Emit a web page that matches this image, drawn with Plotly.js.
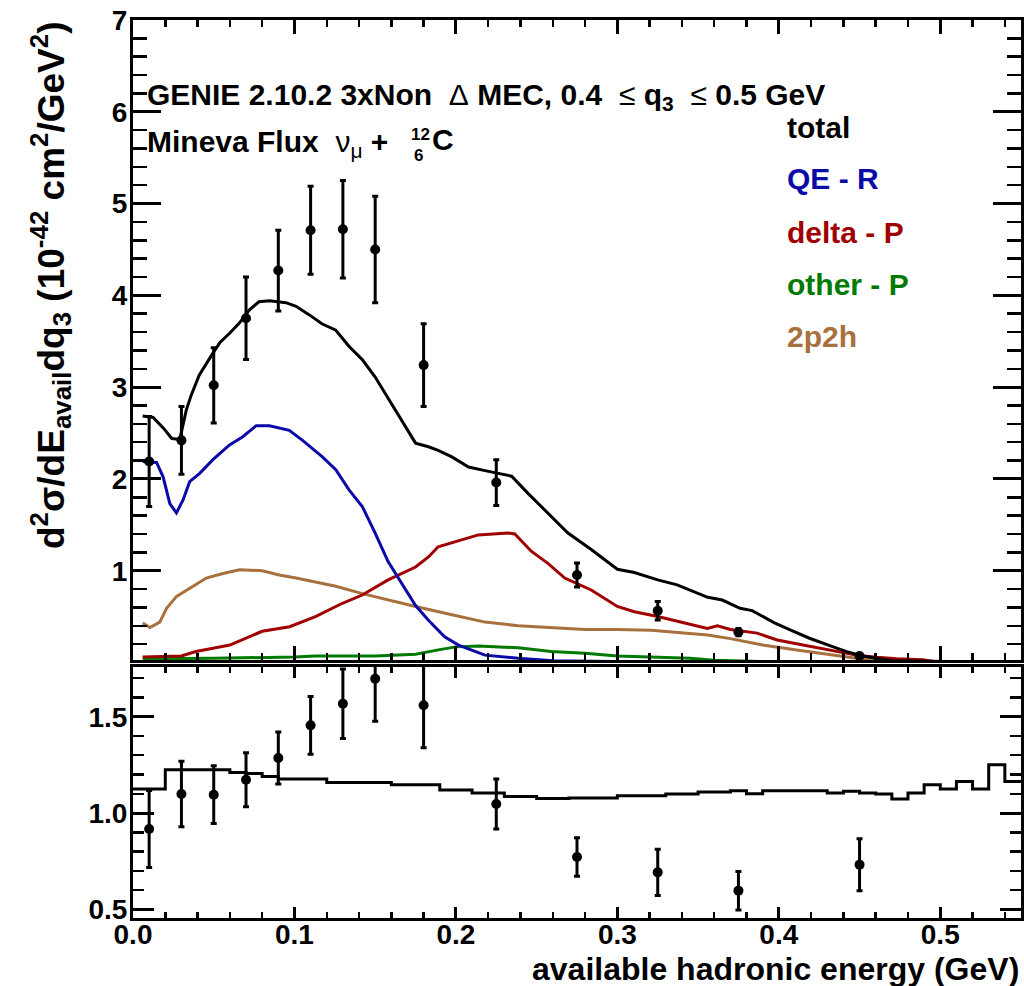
<!DOCTYPE html>
<html><head><meta charset="utf-8">
<script src="https://cdn.plot.ly/plotly-3.0.1.min.js"></script>
<style>html,body{margin:0;padding:0;background:#fff;}</style>
</head><body>
<div id="chart" style="width:1024px;height:986px;"></div>
<script>
// ---- data points (top panel) ----
const dataX   = [0.01, 0.03, 0.05, 0.07, 0.09, 0.11, 0.13, 0.15, 0.18, 0.225, 0.275, 0.325, 0.375, 0.45];
const dataY   = [2.19, 2.42, 3.02, 3.75, 4.27, 4.71, 4.72, 4.50, 3.24, 1.96, 0.953, 0.564, 0.33, 0.07];
const dataErr = [0.49, 0.37, 0.41, 0.45, 0.44, 0.48, 0.53, 0.58, 0.45, 0.25, 0.13, 0.10, 0.04, 0.02];

// ---- model curves (top panel) ----
const totalX = [0.006, 0.0125, 0.019, 0.024, 0.029, 0.033, 0.036, 0.041, 0.0495, 0.054, 0.060, 0.066, 0.072, 0.078, 0.0845, 0.0947, 0.101, 0.109, 0.117, 0.1256, 0.134, 0.142, 0.150, 0.158, 0.1667, 0.175, 0.183, 0.189, 0.1975, 0.2078, 0.218, 0.2345, 0.2448, 0.255, 0.2694, 0.2838, 0.300, 0.3105, 0.325, 0.337, 0.350, 0.356, 0.365, 0.376, 0.3835, 0.397, 0.407, 0.419, 0.432, 0.442, 0.452, 0.461, 0.470, 0.545];
const totalY = [2.685, 2.67, 2.55, 2.44, 2.43, 2.75, 2.91, 3.13, 3.37, 3.49, 3.59, 3.70, 3.84, 3.93, 3.94, 3.92, 3.88, 3.79, 3.69, 3.62, 3.44, 3.30, 3.11, 2.88, 2.64, 2.39, 2.35, 2.31, 2.24, 2.13, 2.09, 2.03, 1.84, 1.66, 1.41, 1.23, 1.015, 0.98, 0.90, 0.845, 0.75, 0.71, 0.68, 0.59, 0.565, 0.434, 0.354, 0.264, 0.18, 0.118, 0.071, 0.046, 0.02, 0.0];
const qeX = [0.006, 0.0146, 0.0187, 0.0228, 0.0269, 0.031, 0.0351, 0.0413, 0.0495, 0.0598, 0.068, 0.0763, 0.0845, 0.0968, 0.105, 0.1173, 0.1256, 0.1338, 0.142, 0.150, 0.158, 0.1667, 0.175, 0.183, 0.193, 0.2016, 0.218, 0.2386, 0.26, 0.30, 0.545];
const qeY = [2.19, 2.18, 2.02, 1.73, 1.63, 1.77, 1.97, 2.06, 2.21, 2.37, 2.46, 2.58, 2.58, 2.53, 2.42, 2.24, 2.10, 1.88, 1.70, 1.41, 1.10, 0.85, 0.62, 0.46, 0.28, 0.19, 0.08, 0.046, 0.02, 0.01, 0.0];
const deltaX = [0.006, 0.03, 0.039, 0.06, 0.080, 0.097, 0.113, 0.1297, 0.142, 0.158, 0.175, 0.183, 0.189, 0.2016, 0.2139, 0.2324, 0.2365, 0.2468, 0.257, 0.2674, 0.2838, 0.300, 0.3105, 0.325, 0.341, 0.3557, 0.362, 0.370, 0.3865, 0.399, 0.415, 0.4318, 0.448, 0.4606, 0.473, 0.489, 0.50];
const deltaY = [0.06, 0.07, 0.12, 0.19, 0.34, 0.39, 0.50, 0.645, 0.735, 0.90, 1.04, 1.15, 1.26, 1.33, 1.39, 1.41, 1.40, 1.21, 1.08, 0.92, 0.79, 0.61, 0.553, 0.50, 0.434, 0.37, 0.40, 0.36, 0.32, 0.245, 0.19, 0.13, 0.08, 0.056, 0.04, 0.03, 0.0];
const otherX = [0.006, 0.05, 0.10, 0.113, 0.15, 0.175, 0.19, 0.20, 0.214, 0.2386, 0.259, 0.28, 0.30, 0.325, 0.345, 0.36, 0.39, 0.545];
const otherY = [0.04, 0.045, 0.06, 0.07, 0.07, 0.09, 0.14, 0.17, 0.18, 0.16, 0.12, 0.10, 0.07, 0.06, 0.045, 0.025, 0.01, 0.0];
const mecX = [0.006, 0.0105, 0.0166, 0.0208, 0.027, 0.035, 0.0454, 0.0557, 0.066, 0.080, 0.0906, 0.101, 0.113, 0.1256, 0.142, 0.158, 0.175, 0.1975, 0.218, 0.2386, 0.259, 0.28, 0.30, 0.321, 0.341, 0.356, 0.370, 0.390, 0.411, 0.432, 0.448, 0.465, 0.50];
const mecY = [0.43, 0.38, 0.44, 0.59, 0.72, 0.81, 0.92, 0.97, 1.01, 1.00, 0.953, 0.92, 0.88, 0.83, 0.75, 0.68, 0.61, 0.52, 0.44, 0.40, 0.38, 0.36, 0.36, 0.35, 0.32, 0.30, 0.26, 0.19, 0.136, 0.08, 0.045, 0.02, 0.0];

// ---- ratio panel ----
const ratioY   = [0.917, 1.099, 1.095, 1.173, 1.286, 1.455, 1.567, 1.697, 1.559, 1.047, 0.772, 0.692, 0.597, 0.732];
const ratioErr = [0.20, 0.17, 0.15, 0.14, 0.135, 0.15, 0.18, 0.22, 0.22, 0.13, 0.10, 0.12, 0.10, 0.135];
const ratioBinWidth = 0.01;
const ratioMC = [1.125, 1.125, 1.225, 1.225, 1.225, 1.225, 1.21, 1.205, 1.19, 1.176,
                 1.176, 1.176, 1.159, 1.159, 1.159, 1.159, 1.147, 1.147, 1.147, 1.12,
                 1.12, 1.104, 1.104, 1.086, 1.086, 1.075, 1.075, 1.078, 1.078, 1.078,
                 1.09, 1.09, 1.09, 1.099, 1.099, 1.109, 1.109, 1.116, 1.10, 1.116,
                 1.116, 1.116, 1.116, 1.104, 1.113, 1.104, 1.099, 1.073, 1.104, 1.147,
                 1.125, 1.164, 1.125, 1.25, 1.164];

const xTickLabels = ['0.0', '0.1', '0.2', '0.3', '0.4', '0.5'];
const legendLabels = ['total', 'QE - R', 'delta - P', 'other - P', '2p2h'];
const colors = {total: '#000000', qe: '#0a0aa8', delta: '#a00000', other: '#007a00', mec: '#a8703c'};

const rEdgesX = [], rEdgesY = [];
for (let i = 0; i < ratioMC.length; i++) { rEdgesX.push(i * ratioBinWidth); rEdgesY.push(ratioMC[i]); }
rEdgesX.push(ratioMC.length * ratioBinWidth); rEdgesY.push(ratioMC[ratioMC.length - 1]);

const FONT = 'Liberation Sans, Arial, Helvetica, sans-serif';
const W = 1024, H = 986, ML = 133, MR = 3, MT = 20, MB = 68;
const PW = W - ML - MR, PH = H - MT - MB;
const px2x = p => (p - ML) / PW;
const py2y = p => (H - MB - p) / PH;

const curve = (x, y, c) => ({x: x, y: y, type: 'scatter', mode: 'lines', line: {color: c, width: 3}, xaxis: 'x', yaxis: 'y'});
const traces = [
  curve(mecX, mecY, colors.mec),
  curve(otherX, otherY, colors.other),
  curve(deltaX, deltaY, colors.delta),
  curve(qeX, qeY, colors.qe),
  curve(totalX, totalY, colors.total),
  {x: dataX, y: dataY, type: 'scatter', mode: 'markers', marker: {color: '#000', size: 10},
   error_y: {type: 'data', array: dataErr, color: '#000', thickness: 3, width: 3}, xaxis: 'x', yaxis: 'y'},
  {x: rEdgesX, y: rEdgesY, type: 'scatter', mode: 'lines', line: {color: '#000', width: 3, shape: 'hv'}, xaxis: 'x2', yaxis: 'y2'},
  {x: dataX, y: ratioY, type: 'scatter', mode: 'markers', marker: {color: '#000', size: 10},
   error_y: {type: 'data', array: ratioErr, color: '#000', thickness: 3, width: 3}, xaxis: 'x2', yaxis: 'y2'}
];

const tickFont = {family: FONT, size: 28, color: '#000', weight: 'bold'};
const baseAxis = {showgrid: false, zeroline: false, showline: true, linecolor: '#000', linewidth: 3,
                  mirror: 'allticks', ticks: 'inside', tickcolor: '#000', tickwidth: 3, tickfont: tickFont};
const layout = {
  width: W, height: H,
  margin: {l: ML, r: MR, t: MT, b: MB, pad: 0},
  paper_bgcolor: '#fff', plot_bgcolor: '#fff',
  font: {family: FONT, color: '#000'},
  showlegend: false,
  xaxis: Object.assign({}, baseAxis, {domain: [0, 1], range: [0, 0.55], anchor: 'y', tick0: 0, dtick: 0.1,
    ticklen: 14, showticklabels: false,
    minor: {dtick: 0.02, ticklen: 7, tickwidth: 2.5, ticks: 'inside', tickcolor: '#000'}}),
  yaxis: Object.assign({}, baseAxis, {domain: [0.28731, 1], range: [0.027, 7], anchor: 'x', tick0: 0, dtick: 1,
    ticklen: 28, tickformat: 'd', ticklabelstandoff: -3,
    minor: {dtick: 0.2, ticklen: 14, tickwidth: 2.5, ticks: 'inside', tickcolor: '#000'}}),
  xaxis2: Object.assign({}, baseAxis, {domain: [0, 1], range: [0, 0.55], anchor: 'y2', tickmode: 'array',
    tickvals: xTickLabels.map(Number), ticktext: xTickLabels, ticklen: 11, ticklabelstandoff: -11,
    minor: {dtick: 0.02, ticklen: 6, tickwidth: 2.5, ticks: 'inside', tickcolor: '#000'}}),
  yaxis2: Object.assign({}, baseAxis, {domain: [0, 0.27951], range: [0.455, 1.758], anchor: 'x2', tick0: 0, dtick: 0.5,
    ticklen: 21, tickformat: '.1f', ticklabelstandoff: -3,
    minor: {dtick: 0.1, ticklen: 11, tickwidth: 2.5, ticks: 'inside', tickcolor: '#000'}}),
  annotations: []
};

const ann = (text, pxX, pxY, size, color, extra) => Object.assign({
  text: text, xref: 'paper', yref: 'paper', x: px2x(pxX), y: py2y(pxY), xanchor: 'left', yanchor: 'middle',
  showarrow: false, font: {family: FONT, size: size, color: color, weight: 'bold'}
}, extra || {});

const thin = s => '<span style="font-weight:normal">' + s + '</span>';
layout.annotations.push(ann('GENIE 2.10.2 3xNon  ' + thin('\u0394') + ' MEC, 0.4  ' + thin('\u2264') + ' q<sub>3</sub>  ' + thin('\u2264') + ' 0.5 GeV', 145, 96, 30, '#000'));
layout.annotations.push(ann('Mineva Flux  ' + thin('\u03bd<sub>\u03bc</sub>') + ' +', 145, 143, 30, '#000'));
layout.annotations.push(ann('12', 409, 135, 17, '#000'));
layout.annotations.push(ann('6', 412, 155, 17, '#000'));
layout.annotations.push(ann('C', 430, 140, 30, '#000'));

const legendColors = [colors.total, colors.qe, colors.delta, colors.other, colors.mec];
const legendPY = [127, 179, 232, 284, 337];
legendLabels.forEach((t, i) => layout.annotations.push(ann(t, 785, legendPY[i], 30, legendColors[i])));

layout.annotations.push(ann('d<sup>2</sup>\u03c3/dE<sub>avail</sub>dq<sub>3</sub> (10<sup>-42</sup> cm<sup>2</sup>/GeV<sup>2</sup>)',
  50, 285, 37, '#000', {textangle: -90, xanchor: 'center', yanchor: 'middle'}));
layout.annotations.push(ann('available hadronic energy (GeV)', 1021, 969, 32, '#000', {xanchor: 'right'}));

Plotly.newPlot('chart', traces, layout, {staticPlot: true, displayModeBar: false});
</script>
</body></html>
